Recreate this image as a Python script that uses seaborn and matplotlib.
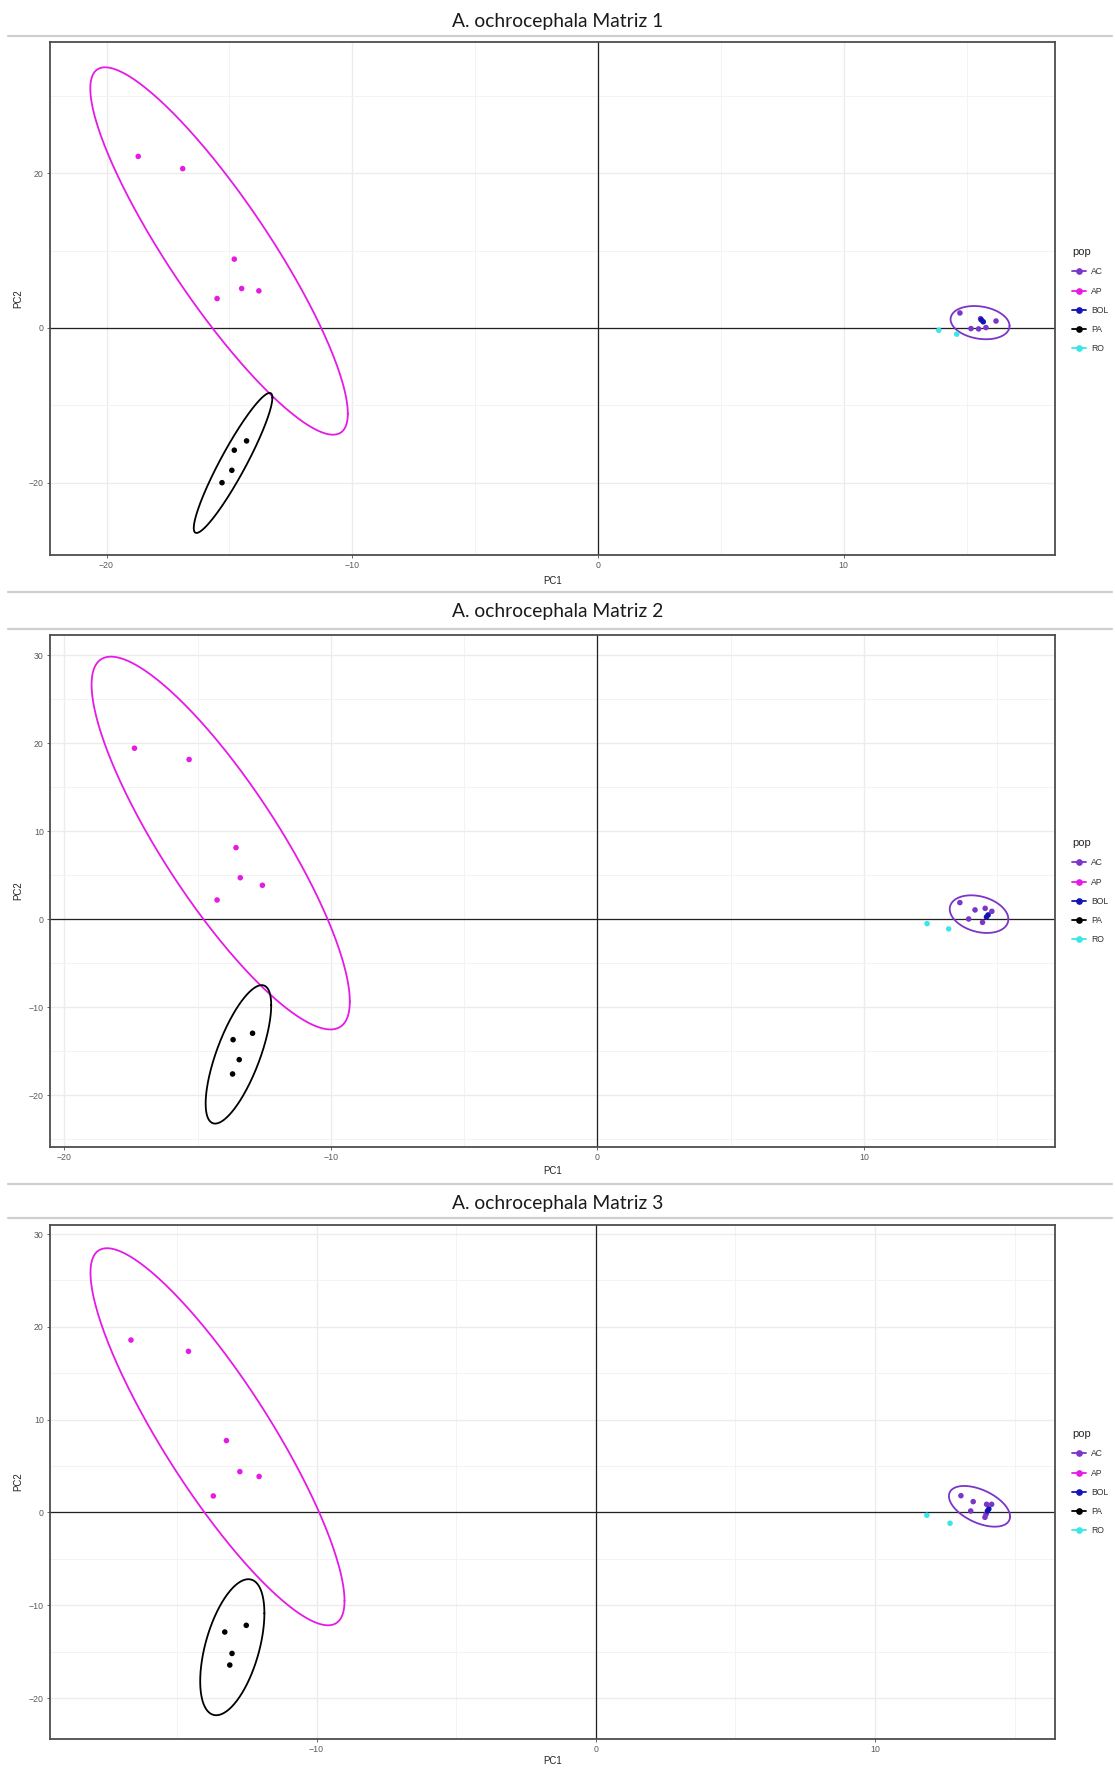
import numpy as np
import pandas as pd
import seaborn as sns
import matplotlib.pyplot as plt
from matplotlib.lines import Line2D

W, H = 1115, 1768

# population colours
pops = ['AC', 'AP', 'BOL', 'PA', 'RO']
pop_colors = {'AC': '#7B35C8', 'AP': '#E61AE6', 'BOL': '#1414B4',
              'PA': '#000000', 'RO': '#3CE6E6'}

# ---- Matriz 1 ----
m1_pop = ['AP'] * 6 + ['PA'] * 4 + ['AC'] * 6 + ['BOL'] * 2 + ['RO'] * 2
m1_pc1 = [-18.71, -16.9, -14.8, -15.5, -14.5, -13.8,
          -14.3, -14.8, -14.9, -15.3,
          14.73, 15.18, 15.49, 15.79, 16.2, 15.57,
          15.6, 15.68,
          13.87, 14.6]
m1_pc2 = [22.18, 20.6, 8.9, 3.8, 5.1, 4.8,
          -14.6, -15.8, -18.4, -20.0,
          1.94, -0.08, -0.12, 0.05, 0.9, 1.2,
          1.05, 0.8,
          -0.3, -0.8]
# ellipses: centre, half extent in x / y, correlation
m1_ell_pop = ['AP', 'PA', 'AC']
m1_ell_cx = [-15.42, -14.85, 15.55]
m1_ell_cy = [9.95, -17.45, 0.69]
m1_ell_hx = [5.24, 1.6, 1.2]
m1_ell_hy = [23.75, 9.05, 2.15]
m1_ell_r = [-0.885, 0.93, -0.2]

# ---- Matriz 2 ----
m2_pop = ['AP'] * 6 + ['PA'] * 4 + ['AC'] * 6 + ['BOL'] * 2 + ['RO'] * 2
m2_pc1 = [-17.37, -15.32, -13.56, -13.4, -12.57, -14.27,
          -12.94, -13.67, -13.44, -13.69,
          13.6, 14.17, 13.93, 14.55, 14.45, 14.8,
          14.66, 14.6,
          12.37, 13.18]
m2_pc2 = [19.43, 18.15, 8.13, 4.71, 3.85, 2.18,
          -12.97, -13.7, -15.97, -17.6,
          1.88, 1.05, 0.02, 1.23, -0.36, 0.89,
          0.48, 0.25,
          -0.51, -1.11]
m2_ell_pop = ['AP', 'PA', 'AC']
m2_ell_cx = [-14.135, -13.47, 14.32]
m2_ell_cy = [8.65, -15.37, 0.57]
m2_ell_hx = [4.845, 1.23, 1.1]
m2_ell_hy = [21.19, 7.87, 2.14]
m2_ell_r = [-0.85, 0.71, -0.27]

# ---- Matriz 3 ----
m3_pop = ['AP'] * 6 + ['PA'] * 4 + ['AC'] * 7 + ['BOL'] * 2 + ['RO'] * 2
m3_pc1 = [-16.65, -14.59, -13.23, -12.75, -12.06, -13.7,
          -12.52, -13.29, -13.03, -13.11,
          13.08, 13.52, 13.43, 14.0, 14.18, 13.98, 13.94,
          14.08, 14.03,
          11.86, 12.69]
m3_pc2 = [18.58, 17.37, 7.75, 4.4, 3.88, 1.78,
          -12.16, -12.88, -15.19, -16.44,
          1.81, 1.17, 0.16, 0.88, 0.88, -0.2, -0.52,
          0.38, 0.16,
          -0.3, -1.16]
m3_ell_pop = ['AP', 'PA', 'AC']
m3_ell_cx = [-13.55, -13.02, 13.745]
m3_ell_cy = [8.16, -14.52, 0.665]
m3_ell_hx = [4.55, 1.15, 1.095]
m3_ell_hy = [20.32, 7.33, 2.195]
m3_ell_r = [-0.87, 0.5, -0.5]

titles = ['A. ochrocephala Matriz 1', 'A. ochrocephala Matriz 2',
          'A. ochrocephala Matriz 3']

sns.set_style('white')
plt.rcParams['font.family'] = ['Liberation Sans', 'DejaVu Sans']

fig = plt.figure(figsize=(W / 100, H / 100), dpi=100)


def px_axes(left, top, right, bottom):
    return fig.add_axes([left / W, 1 - bottom / H, (right - left) / W, (bottom - top) / H])


def sep_line(y):
    fig.add_artist(Line2D([8 / W, 1112 / W], [1 - y / H, 1 - y / H],
                          transform=fig.transFigure, color='#cfcfcf', lw=1.6))


def draw_panel(ax, pop, pc1, pc2, ell, xlim, ylim, xmaj, ymaj, xmin, ymin, labpad):
    ax.set_xlim(*xlim)
    ax.set_ylim(*ylim)
    ax.set_xticks(xmaj)
    ax.set_yticks(ymaj)
    ax.set_xticks(xmin, minor=True)
    ax.set_yticks(ymin, minor=True)
    ax.grid(True, which='major', color='#ececec', lw=1.0, zorder=0)
    ax.grid(True, which='minor', color='#f3f3f3', lw=0.7, zorder=0)
    ax.set_axisbelow(True)
    ax.axhline(0, color='#222222', lw=0.9, zorder=1)
    ax.axvline(0, color='#222222', lw=0.9, zorder=1)

    df = pd.DataFrame({'PC1': pc1, 'PC2': pc2, 'pop': pop})
    sns.scatterplot(data=df, x='PC1', y='PC2', hue='pop', palette=pop_colors,
                    s=16, linewidth=0, legend=False, ax=ax, zorder=3)

    t = np.linspace(0, 2 * np.pi, 300)
    for p, cx, cy, hx, hy, r in zip(*ell):
        ex = cx + hx * np.cos(t)
        ey = cy + hy * (r * np.cos(t) + np.sqrt(1 - r ** 2) * np.sin(t))
        ax.plot(ex, ey, color=pop_colors[p], lw=1.3, zorder=2)

    for sp in ax.spines.values():
        sp.set_color('#4d4d4d')
        sp.set_linewidth(1.3)
    ax.tick_params(axis='both', which='major', length=2.5, width=0.6, color='#4d4d4d',
                   labelsize=6.3, labelcolor='#5a5a5a', pad=2, bottom=True, left=True)
    ax.tick_params(which='minor', length=0)
    ax.set_xlabel('PC1', fontsize=6.9, color='#222222', labelpad=labpad)
    ax.set_ylabel('PC2', fontsize=6.9, color='#222222', labelpad=4)

    handles = [Line2D([0], [0], color=pop_colors[p], lw=1.3, marker='o', markersize=3.8)
               for p in pops]
    return handles


panels = [
    dict(box=(50, 42, 1055, 555), title_y=21, lines=[36],
         pop=m1_pop, pc1=m1_pc1, pc2=m1_pc2,
         ell=(m1_ell_pop, m1_ell_cx, m1_ell_cy, m1_ell_hx, m1_ell_hy, m1_ell_r),
         xlim=(-22.3, 18.6), ylim=(-29.35, 36.97),
         xmaj=[-20, -10, 0, 10], ymaj=[-20, 0, 20],
         xmin=[-15, -5, 5, 15], ymin=[-10, 10, 30], labpad=4, leg_y=243),
    dict(box=(50, 635, 1055, 1147), title_y=612, lines=[592, 629],
         pop=m2_pop, pc1=m2_pc1, pc2=m2_pc2,
         ell=(m2_ell_pop, m2_ell_cx, m2_ell_cy, m2_ell_hx, m2_ell_hy, m2_ell_r),
         xlim=(-20.54, 17.17), ylim=(-25.9, 32.3),
         xmaj=[-20, -10, 0, 10], ymaj=[-20, -10, 0, 10, 20, 30],
         xmin=[-15, -5, 5, 15], ymin=[-25, -15, -5, 5, 15, 25], labpad=3, leg_y=834),
    dict(box=(50, 1225, 1055, 1739), title_y=1203, lines=[1184, 1218],
         pop=m3_pop, pc1=m3_pc1, pc2=m3_pc2,
         ell=(m3_ell_pop, m3_ell_cx, m3_ell_cy, m3_ell_hx, m3_ell_hy, m3_ell_r),
         xlim=(-19.55, 16.45), ylim=(-24.41, 30.98),
         xmaj=[-10, 0, 10], ymaj=[-20, -10, 0, 10, 20, 30],
         xmin=[-15, -5, 5, 15], ymin=[-15, -5, 5, 15, 25], labpad=1, leg_y=1425),
]

for title, pn in zip(titles, panels):
    for y in pn['lines']:
        sep_line(y)
    fig.text(0.5, 1 - pn['title_y'] / H, title, ha='center', va='center',
             fontsize=13.9, color='#1a1a1a', family=['Lato', 'DejaVu Sans'])
    ax = px_axes(*pn['box'])
    handles = draw_panel(ax, pn['pop'], pn['pc1'], pn['pc2'], pn['ell'],
                         pn['xlim'], pn['ylim'], pn['xmaj'], pn['ymaj'],
                         pn['xmin'], pn['ymin'], pn['labpad'])
    leg = fig.legend(handles, pops, title='pop', loc='upper left',
                     bbox_to_anchor=(1068 / W, 1 - pn['leg_y'] / H),
                     bbox_transform=fig.transFigure, frameon=False,
                     fontsize=6.2, title_fontsize=8, handlelength=1.6,
                     handletextpad=0.6, labelspacing=1.18, borderpad=0,
                     alignment='left')
    for txt in leg.get_texts():
        txt.set_color('#333333')

fig.savefig('out.png', dpi=100, facecolor='white')
